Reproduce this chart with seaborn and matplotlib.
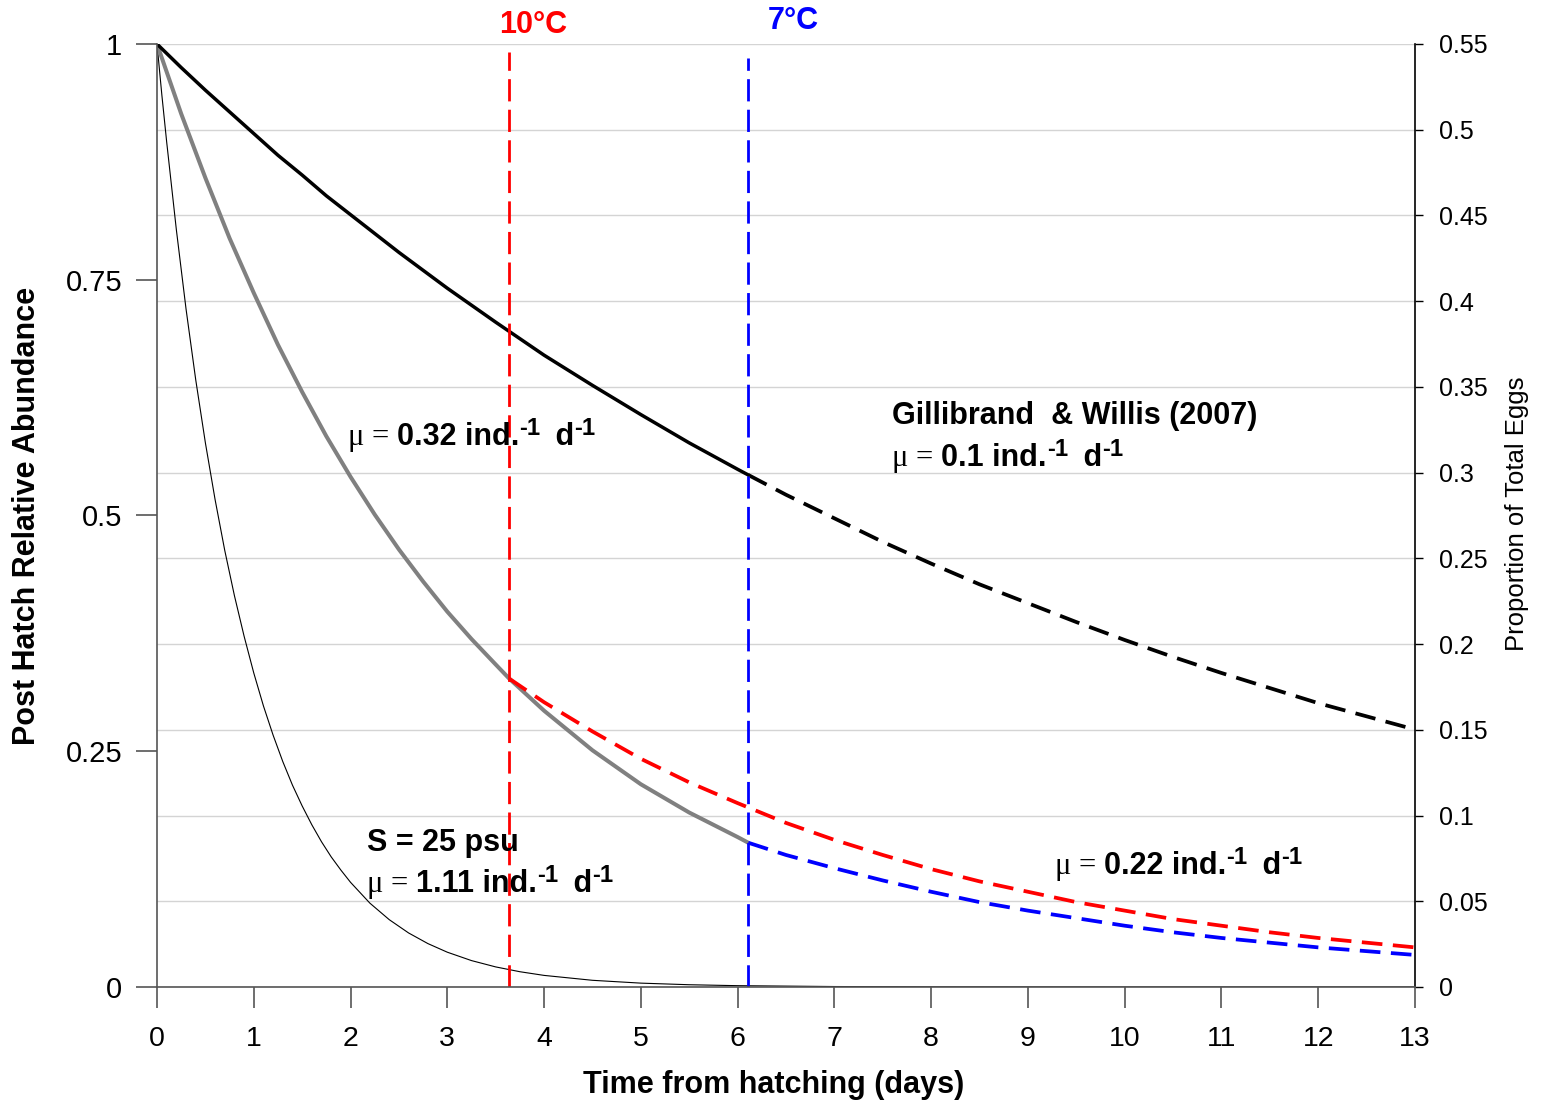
import matplotlib
matplotlib.use("Agg")
import matplotlib.pyplot as plt
import seaborn as sns

# ---------------- data ----------------
day_ticks = list(range(0, 14))
left_ticks = [0, 0.25, 0.5, 0.75, 1]
left_tick_labels = ["0", "0.25", "0.5", "0.75", "1"]
right_ticks = [0, 0.05, 0.1, 0.15, 0.2, 0.25, 0.3, 0.35, 0.4, 0.45, 0.5, 0.55]
right_tick_labels = ["0", "0.05", "0.1", "0.15", "0.2", "0.25", "0.3", "0.35",
                     "0.4", "0.45", "0.5", "0.55"]

# Gillibrand & Willis (2007), mu = 0.1
gw_solid_t = [0, 0.25, 0.5, 0.75, 1, 1.25, 1.5, 1.75, 2, 2.25, 2.5, 2.75, 3,
              3.5, 4, 4.5, 5, 5.5, 6, 6.11]
gw_solid_y = [1.0, 0.975, 0.951, 0.928, 0.905, 0.882, 0.861, 0.839, 0.819,
              0.799, 0.779, 0.760, 0.741, 0.705, 0.670, 0.638, 0.607, 0.577,
              0.549, 0.543]
gw_dash_t = [6.11, 6.5, 7, 7.5, 8, 8.5, 9, 9.5, 10, 10.5, 11, 11.5, 12, 12.5, 13]
gw_dash_y = [0.543, 0.522, 0.497, 0.472, 0.449, 0.427, 0.407, 0.387, 0.368,
             0.350, 0.333, 0.317, 0.301, 0.287, 0.273]

# mu = 0.32 (grey)
grey_t = [0, 0.25, 0.5, 0.75, 1, 1.25, 1.5, 1.75, 2, 2.25, 2.5, 2.75, 3, 3.25,
          3.5, 3.64, 4, 4.5, 5, 5.5, 6, 6.11]
grey_y = [1.0, 0.926, 0.858, 0.794, 0.736, 0.681, 0.631, 0.584, 0.541, 0.501,
          0.464, 0.430, 0.398, 0.369, 0.342, 0.327, 0.293, 0.251, 0.215, 0.185,
          0.159, 0.153]

# mu = 0.22 continuation after 10 C (red) and after 7 C (blue)
red_t = [3.64, 4, 4.5, 5, 5.5, 6, 6.5, 7, 7.5, 8, 8.5, 9, 9.5, 10, 10.5, 11,
         11.5, 12, 12.5, 13]
red_y = [0.327, 0.302, 0.271, 0.242, 0.217, 0.195, 0.174, 0.156, 0.140, 0.125,
         0.112, 0.101, 0.090, 0.081, 0.072, 0.065, 0.058, 0.052, 0.047, 0.042]
blue_t = [6.11, 6.5, 7, 7.5, 8, 8.5, 9, 9.5, 10, 10.5, 11, 11.5, 12, 12.5, 13]
blue_y = [0.153, 0.140, 0.126, 0.113, 0.101, 0.090, 0.081, 0.073, 0.065, 0.058,
          0.052, 0.047, 0.042, 0.038, 0.034]

# S = 25 psu, mu = 1.11 (thin black)
s25_t = [0, 0.05, 0.1, 0.2, 0.3, 0.4, 0.5, 0.6, 0.7, 0.8, 0.9, 1.0, 1.1, 1.2,
         1.3, 1.4, 1.5, 1.6, 1.7, 1.8, 1.9, 2.0, 2.2, 2.4, 2.6, 2.8, 3.0, 3.25,
         3.5, 3.75, 4, 4.5, 5, 5.5, 6, 7, 8, 9, 10, 11, 12, 13]
s25_y = [1.0, 0.946, 0.896, 0.803, 0.719, 0.644, 0.577, 0.517, 0.463, 0.415,
         0.372, 0.333, 0.298, 0.267, 0.239, 0.214, 0.192, 0.172, 0.154, 0.138,
         0.124, 0.111, 0.0889, 0.0714, 0.0573, 0.0460, 0.0369, 0.0280, 0.0213,
         0.0162, 0.0123, 0.0071, 0.0041, 0.0024, 0.0014, 0.0005, 0.0002,
         0.0001, 0, 0, 0, 0]

# temperature markers
temp_names = ["10°C", "7°C"]
temp_days = [3.64, 6.11]
temp_line_top = [0.992, 0.985]
temp_colors = ["#ff0000", "#0000ff"]

# mortality annotations
mu_values = ["0.32", "0.1", "1.11", "0.22"]

# ---------------- style ----------------
sns.set_theme(style="white")
plt.rcParams["font.family"] = ["Liberation Sans", "DejaVu Sans"]
for k in ["text.color", "axes.labelcolor", "xtick.color", "ytick.color"]:
    plt.rcParams[k] = "black"

fig = plt.figure(figsize=(15.42, 11.04), dpi=100)
ax = fig.add_axes([0.10182, 0.10598, 0.81582, 0.85417])
ax2 = ax.twinx()
ax.set_zorder(ax2.get_zorder() + 1)
ax.patch.set_visible(False)

# right axis with gridlines (drawn underneath)
ax2.set_ylim(0, 0.55)
ax2.set_yticks(right_ticks)
ax2.set_yticklabels(right_tick_labels, fontsize=18)
ax2.grid(axis="y", color="#d4d4d4", linewidth=1.0)
ax2.tick_params(axis="y", direction="out", length=6, width=1, color="black",
                pad=11, right=True)
for s in ["top", "left", "bottom"]:
    ax2.spines[s].set_visible(False)
ax2.spines["right"].set_color("black")
ax2.spines["right"].set_linewidth(1.2)
ax2.set_ylabel("Proportion of Total Eggs", fontsize=18.5, va="center",
               ha="center", rotation=90)
ax2.yaxis.set_label_coords(1.081, 0.502)

# curves
sns.lineplot(x=s25_t, y=s25_y, ax=ax, color="black", linewidth=0.8)
sns.lineplot(x=grey_t, y=grey_y, ax=ax, color="#808080", linewidth=2.9)
sns.lineplot(x=gw_solid_t, y=gw_solid_y, ax=ax, color="black", linewidth=2.5)
sns.lineplot(x=gw_dash_t, y=gw_dash_y, ax=ax, color="black", linewidth=2.7)
ax.lines[-1].set_dashes((5.5, 2.8))
sns.lineplot(x=red_t, y=red_y, ax=ax, color="#ff0000", linewidth=2.7)
ax.lines[-1].set_dashes((5.5, 2.8))
sns.lineplot(x=blue_t, y=blue_y, ax=ax, color="#0000ff", linewidth=2.7)
ax.lines[-1].set_dashes((5.5, 2.8))

# temperature vertical lines and labels
label_dx = [0.25, 0.47]
label_y = [1.020, 1.024]
for name, d, top, c, dx, ly in zip(temp_names, temp_days, temp_line_top,
                                   temp_colors, label_dx, label_y):
    ln, = ax.plot([d, d], [0, top], color=c, linewidth=2.0)
    ln.set_dashes((8, 3))
    ax.text(d + dx, ly, name, color=c, fontsize=22, fontweight="bold",
            ha="center", va="center", clip_on=False)


def mu_label(x, y, value, fs=22):
    """mu = <value> ind.^-1 d^-1 composed from pieces."""
    t1 = ax.text(x, y, "\u03bc = ", fontsize=fs,
                 family=["Liberation Serif", "DejaVu Serif"],
                 ha="left", va="baseline")
    t2 = ax.annotate(value + " ind.", xy=(1, 0), xycoords=t1, fontsize=fs,
                     fontweight="bold", ha="left", va="bottom")
    t3 = ax.annotate("-1", xy=(1, 0.40), xycoords=t2, fontsize=fs * 0.78,
                     fontweight="bold", ha="left", va="bottom")
    t4 = ax.annotate(" d", xy=(1, 0), xycoords=(t3, t2), fontsize=fs,
                     fontweight="bold", ha="left", va="bottom",
                     xytext=(5, 0), textcoords="offset points")
    ax.annotate("-1", xy=(1, 0.40), xycoords=t4, fontsize=fs * 0.78,
                fontweight="bold", ha="left", va="bottom")


# annotations
mu_label(1.97, 0.575, mu_values[0])
ax.text(7.6, 0.605, "Gillibrand  & Willis (2007)", fontsize=22,
        fontweight="bold", ha="left", va="center")
mu_label(7.6, 0.552, mu_values[1])
ax.text(2.17, 0.153, "S = 25 psu", fontsize=22, fontweight="bold",
        ha="left", va="center")
mu_label(2.17, 0.101, mu_values[2])
mu_label(9.28, 0.120, mu_values[3])

# left / bottom axes
ax.set_xlim(0, 13)
ax.set_ylim(0, 1)
ax.set_xticks(day_ticks)
ax.set_xticklabels([str(d) for d in day_ticks], fontsize=20.5)
ax.set_yticks(left_ticks)
ax.set_yticklabels(left_tick_labels, fontsize=21)
ax.tick_params(axis="x", direction="out", length=15, width=1.2,
               color="#555555", pad=13, bottom=True)
ax.tick_params(axis="y", direction="out", length=15, width=1.2,
               color="#555555", pad=10, left=True)
for s in ["top", "right"]:
    ax.spines[s].set_visible(False)
for s in ["left", "bottom"]:
    ax.spines[s].set_color("#555555")
    ax.spines[s].set_linewidth(1.2)
ax.grid(False)

ax.set_xlabel("Time from hatching (days)", fontsize=22, fontweight="bold",
              va="center", ha="center")
ax.xaxis.set_label_coords(0.49, -0.104)
ax.set_ylabel("Post Hatch Relative Abundance", fontsize=22,
              fontweight="bold", va="center", ha="center", rotation=90)
ax.yaxis.set_label_coords(-0.1033, 0.4995)

fig.savefig("out.png", dpi=100)
